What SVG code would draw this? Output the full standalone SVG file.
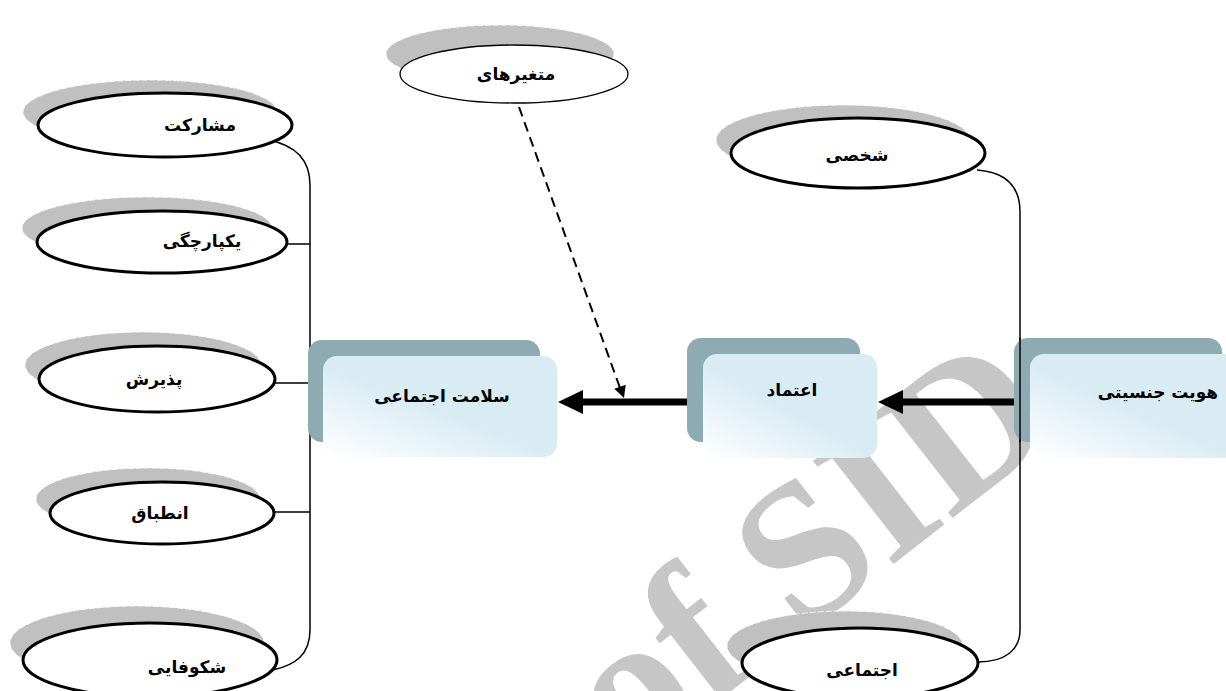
<svg xmlns="http://www.w3.org/2000/svg" width="1226" height="691" viewBox="0 0 1226 691">
<defs>
<linearGradient id="boxfill" x1="0" y1="1" x2="0.45" y2="0.5">
<stop offset="0" stop-color="#ffffff"/>
<stop offset="1" stop-color="#d9ecf3"/>
</linearGradient>
</defs>
<style>
.shadow{fill:#c0c0c0;stroke:#ffffff;stroke-width:0.8;stroke-dasharray:6 2}
.ell{fill:#ffffff;stroke:#000;stroke-width:3}
.ellthin{fill:#ffffff;stroke:#000;stroke-width:1.3}
.back{fill:#8eaab3}
.front{fill:url(#boxfill)}
.lbl{font-family:"DejaVu Sans",sans-serif;font-weight:bold;font-size:17px;text-anchor:middle;fill:#000}
.con{fill:none;stroke:#000;stroke-width:1.5}
.thick{fill:none;stroke:#000;stroke-width:7}
.dash{fill:none;stroke:#000;stroke-width:2;stroke-dasharray:10 6}
.wm{font-family:"Liberation Serif",serif;font-weight:bold;font-size:200px;fill:#c6c6c6}
</style>
<rect width="1226" height="691" fill="#ffffff"/>
<text class="wm" transform="translate(630,770) rotate(-38)">of SID</text>

<g id="connectors">
<path class="con" d="M268,140 C295,145 310,160 310,185 L310,630 C310,655 295,665 273,670"/>
<path class="con" d="M286,244 H310 M275,383 H310 M275,512 H310"/>
<path class="con" d="M977,170 C1005,172 1020,185 1020,212 L1020,630 C1020,650 1005,662 978,662"/>
<line class="thick" x1="687" y1="402" x2="580" y2="402"/>
<polygon points="558,402 583,390 583,414" fill="#000"/>
<line class="thick" x1="1020" y1="402" x2="900" y2="402"/>
<polygon points="878,402 903,390 903,414" fill="#000"/>
<line class="dash" x1="519" y1="107" x2="620" y2="388"/>
<polygon points="624,398 625.7,384.7 614.3,388.7" fill="#000"/>
</g>

<g id="n-motaghayerha">
<ellipse class="shadow" cx="500" cy="54" rx="114" ry="29"/>
<ellipse class="ellthin" cx="514" cy="74" rx="114" ry="29"/>
<text class="lbl" x="516" y="80">متغیرهای</text>
</g>
<g id="n-mosharekat">
<ellipse class="shadow" cx="150" cy="112" rx="127" ry="32"/>
<ellipse class="ell" cx="165" cy="125" rx="127" ry="32"/>
<text class="lbl" x="200" y="131">مشارکت</text>
</g>
<g id="n-yekparchegi">
<ellipse class="shadow" cx="147" cy="228" rx="125" ry="31"/>
<ellipse class="ell" cx="162" cy="242" rx="125" ry="31"/>
<text class="lbl" x="202" y="247">یکپارچگی</text>
</g>
<g id="n-paziresh">
<ellipse class="shadow" cx="143" cy="365" rx="118" ry="33"/>
<ellipse class="ell" cx="157" cy="379" rx="118" ry="33"/>
<text class="lbl" x="154" y="385">پذیرش</text>
</g>
<g id="n-entebagh">
<ellipse class="shadow" cx="148" cy="499" rx="112" ry="31"/>
<ellipse class="ell" cx="162" cy="513" rx="112" ry="31"/>
<text class="lbl" x="160" y="519">انطباق</text>
</g>
<g id="n-shekufayi">
<ellipse class="shadow" cx="137" cy="643" rx="127" ry="37"/>
<ellipse class="ell" cx="150" cy="660" rx="127" ry="37"/>
<text class="lbl" x="187" y="673">شکوفایی</text>
</g>
<g id="n-shakhsi">
<ellipse class="shadow" cx="843" cy="140" rx="127" ry="35"/>
<ellipse class="ell" cx="858" cy="153" rx="127" ry="35"/>
<text class="lbl" x="857" y="161">شخصی</text>
</g>
<g id="n-ejtemai">
<ellipse class="shadow" cx="845" cy="646" rx="118" ry="35"/>
<ellipse class="ell" cx="860" cy="663" rx="118" ry="35"/>
<text class="lbl" x="862" y="676">اجتماعی</text>
</g>

<g id="n-salamat">
<rect class="back" x="308" y="340" width="232" height="102" rx="14"/>
<rect class="front" x="323" y="356" width="234" height="101" rx="14"/>
<text class="lbl" x="442" y="402">سلامت اجتماعی</text>
</g>
<g id="n-etemad">
<rect class="back" x="687" y="338" width="173" height="104" rx="14"/>
<rect class="front" x="703" y="354" width="174" height="104" rx="14"/>
<text class="lbl" x="792" y="396">اعتماد</text>
</g>
<g id="n-hoviat">
<rect class="back" x="1014" y="338" width="208" height="104" rx="14"/>
<rect class="front" x="1030" y="354" width="210" height="104" rx="14"/>
<text class="lbl" x="1158" y="398">هویت جنسیتی</text>
</g>
<path class="con" d="M1020,338 V442"/>
</svg>
